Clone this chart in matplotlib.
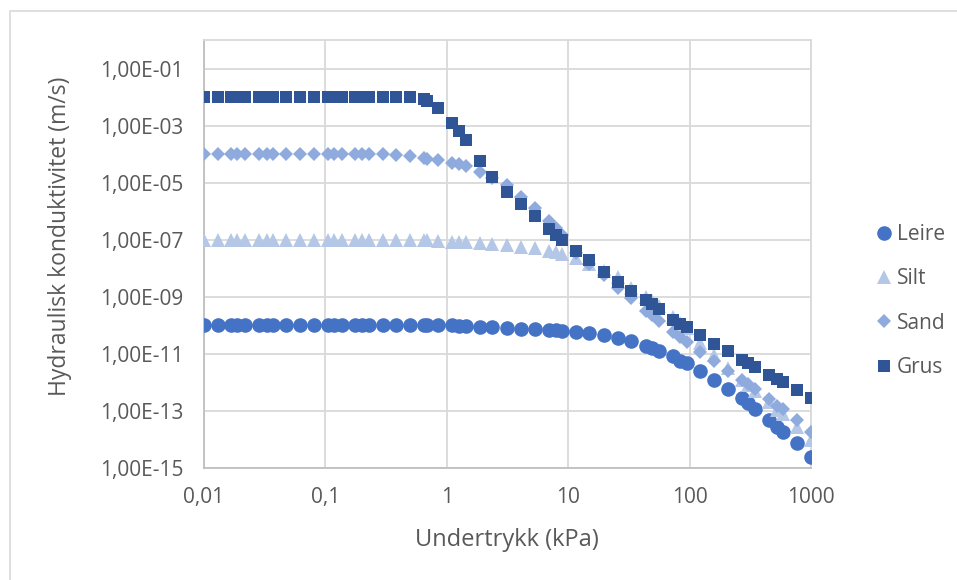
import math
import matplotlib.pyplot as plt
from matplotlib.patches import Rectangle
from matplotlib.ticker import FixedLocator, FuncFormatter, NullLocator

# undertrykk (kPa), shared by all soil types
x = [0.0100, 0.0130, 0.0168, 0.0187, 0.0219, 0.0285, 0.0330, 0.0370, 0.0476, 0.0613, 0.0799,
     0.106, 0.117, 0.137, 0.176, 0.200, 0.227, 0.301, 0.383, 0.500, 0.652, 0.686, 0.839,
     1.10, 1.27, 1.44, 1.86, 2.37, 3.15, 4.11, 5.29, 6.95, 7.89, 8.96,
     11.7, 14.8, 19.7, 25.7, 33.2, 43.5, 49.4, 55.5, 72.4, 83.6, 95.0,
     122, 160, 208, 270, 301, 345, 453, 524, 585, 767, 1000]

leire = [1e-10, 1e-10, 1e-10, 1e-10, 1e-10, 1e-10, 1e-10, 1e-10, 1e-10, 1e-10, 1e-10,
         1e-10, 1e-10, 1e-10, 1e-10, 1e-10, 1e-10, 1e-10, 1e-10, 1e-10, 1e-10, 1e-10, 1e-10,
         1e-10, 9.3e-11, 9.3e-11, 8.9e-11, 8.7e-11, 8.1e-11, 7.6e-11, 7.2e-11, 7.1e-11, 6.8e-11, 6.5e-11,
         6.0e-11, 5.2e-11, 4.6e-11, 3.5e-11, 2.8e-11, 1.95e-11, 1.55e-11, 1.3e-11, 8.3e-12, 5.8e-12, 4.7e-12,
         2.6e-12, 1.2e-12, 5.8e-13, 2.8e-13, 1.95e-13, 1.15e-13, 4.8e-14, 2.7e-14, 1.9e-14, 7.4e-15, 2.5e-15]

silt = [1e-7, 1e-7, 1e-7, 1e-7, 1e-7, 1e-7, 1e-7, 1e-7, 1e-7, 1e-7, 1e-7,
        1e-7, 1e-7, 1e-7, 1e-7, 1e-7, 1e-7, 1e-7, 1e-7, 1e-7, 1e-7, 1e-7, 9.1e-8,
        8.5e-8, 8.3e-8, 8.1e-8, 7.4e-8, 6.9e-8, 6.3e-8, 5.4e-8, 5.0e-8, 4.1e-8, 3.7e-8, 3.2e-8,
        2.2e-8, 1.4e-8, 8.3e-9, 5.0e-9, 2.1e-9, 1.0e-9, 7.1e-10, 4.7e-10, 1.9e-10, 1.2e-10, 8.3e-11,
        2.5e-11, 9.5e-12, 3.3e-12, 1.2e-12, 8.3e-13, 5.2e-13, 2.1e-13, 1.1e-13, 7.9e-14, 2.8e-14, 9.5e-15]

sand = [1e-4, 1e-4, 1e-4, 1e-4, 1e-4, 1e-4, 1e-4, 1e-4, 1e-4, 1e-4, 1e-4,
        1e-4, 1e-4, 1e-4, 1e-4, 1e-4, 1e-4, 1e-4, 9.3e-5, 8.5e-5, 7.1e-5, 7.0e-5, 6.0e-5,
        4.7e-5, 4.4e-5, 3.8e-5, 2.3e-5, 1.5e-5, 8.1e-6, 3.2e-6, 1.26e-6, 4.5e-7, 2.5e-7, 1.45e-7,
        3.5e-8, 1.4e-8, 5.8e-9, 2.0e-9, 8.9e-10, 3.2e-10, 2.3e-10, 1.45e-10, 6.0e-11, 3.8e-11, 2.7e-11,
        1.2e-11, 5.6e-12, 2.6e-12, 1.2e-12, 8.7e-13, 5.8e-13, 2.6e-13, 1.5e-13, 1.15e-13, 4.8e-14, 1.9e-14]

grus = [1e-2, 1e-2, 1e-2, 1e-2, 1e-2, 1e-2, 1e-2, 1e-2, 1e-2, 1e-2, 1e-2,
        1e-2, 1e-2, 1e-2, 1e-2, 1e-2, 1e-2, 1e-2, 1e-2, 1e-2, 8.5e-3, 7.4e-3, 4.0e-3,
        1.26e-3, 6.5e-4, 3.1e-4, 5.9e-5, 1.6e-5, 4.8e-6, 1.8e-6, 6.8e-7, 2.3e-7, 1.45e-7, 9.8e-8,
        4.1e-8, 1.95e-8, 7.6e-9, 3.2e-9, 1.6e-9, 7.6e-10, 5.6e-10, 3.6e-10, 1.6e-10, 1.1e-10, 8.9e-11,
        4.6e-11, 2.3e-11, 1.26e-11, 6.0e-12, 4.9e-12, 3.4e-12, 1.8e-12, 1.3e-12, 1.0e-12, 5.4e-13, 2.8e-13]

xticks = [0.01, 0.1, 1, 10, 100, 1000]
xticklabels = ['0,01', '0,1', '1', '10', '100', '1000']
yticks = [1e-1, 1e-3, 1e-5, 1e-7, 1e-9, 1e-11, 1e-13, 1e-15]

plt.rcParams['font.family'] = ['Open Sans', 'DejaVu Sans']
txt = '#595959'
grid = '#D9D9D9'

fig = plt.figure(figsize=(9.57, 5.8), dpi=100)
fig.patches.append(Rectangle((10 / 957, -0.05), 1.0, 1.05 - 11 / 580, transform=fig.transFigure,
                             fill=False, edgecolor=grid, linewidth=1.2))
ax = fig.add_axes([204 / 957, 112 / 580, 607 / 957, 428 / 580])

ax.plot(x, leire, 'o', color='#4472C4', ms=10.5, mew=0, label='Leire', zorder=3)
ax.plot(x, silt, '^', color='#B4C7E7', ms=9.5, mew=0, label='Silt', zorder=3)
ax.plot(x, sand, 'D', color='#8FAADC', ms=7, mew=0, label='Sand', zorder=3)
ax.plot(x, grus, 's', color='#2F5597', ms=8.5, mew=0, label='Grus', zorder=3)

ax.set_xscale('log')
ax.set_yscale('log')
ax.set_xlim(0.01, 1000)
ax.set_ylim(1e-15, 1)
ax.xaxis.set_major_locator(FixedLocator(xticks))
ax.xaxis.set_minor_locator(NullLocator())
ax.set_xticklabels(xticklabels)
ax.yaxis.set_major_locator(FixedLocator(yticks))
ax.yaxis.set_minor_locator(NullLocator())
ax.yaxis.set_major_formatter(FuncFormatter(lambda v, p: '1,00E-%02d' % round(-math.log10(v))))

ax.grid(True, color=grid, linewidth=1.3, zorder=0)
ax.set_axisbelow(True)
for s in ax.spines.values():
    s.set_color(grid)
    s.set_linewidth(1.3)
ax.spines['left'].set_color('#BFBFBF')
ax.spines['bottom'].set_color('#BFBFBF')
ax.tick_params(length=0, labelsize=15, labelcolor=txt)
ax.tick_params(axis='y', pad=15)
ax.tick_params(axis='x', pad=14)

fig.text(507 / 957, 1 - 540 / 580, 'Undertrykk (kPa)', fontsize=17, color=txt,
         ha='center', va='center')
fig.text(60 / 957, 1 - 236 / 580, 'Hydraulisk konduktivitet (m/s)', fontsize=16.5, color=txt,
         ha='center', va='center', rotation=90)

leg = ax.legend(loc='center left', bbox_to_anchor=(1.07, 0.39), frameon=False, fontsize=15,
                labelcolor=txt, handletextpad=0.1, labelspacing=1.12, handlelength=1.1)

fig.savefig('out.png', dpi=100)
